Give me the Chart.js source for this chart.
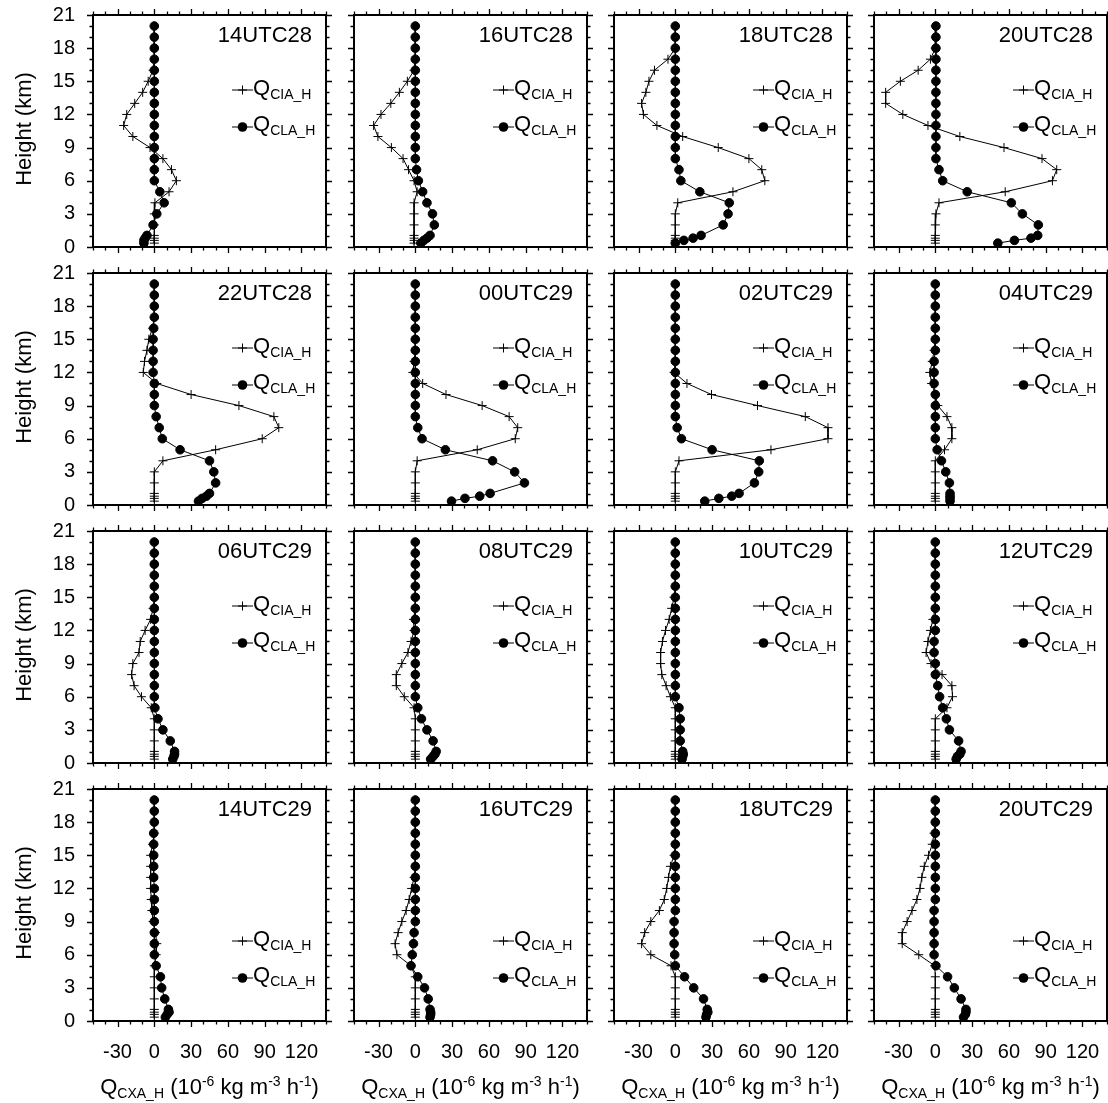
<!DOCTYPE html>
<html><head><meta charset="utf-8">
<script src="https://cdn.jsdelivr.net/npm/chart.js@4/dist/chart.umd.min.js"></script>
<style>
html,body{margin:0;padding:0;background:#fff}
body{width:1108px;height:1103px;position:relative;overflow:hidden;font-family:"Liberation Sans",Arial,Helvetica,sans-serif;color:#000}
canvas{position:absolute}
.t{position:absolute;font-size:22px;line-height:22px;white-space:nowrap}
.t sub{font-size:14px;line-height:0;vertical-align:-4px}
.t sup{font-size:14px;line-height:0;vertical-align:8px}
.mk{position:absolute}
</style>
</head><body>
<script>
// ---------------- data ----------------
const heights = [20,19,18,17,16,15,14,13,12,11,10,9,8,7,6,5,4,3,2,1.05,0.8,0.6,0.35];
const panelLabels = ['14UTC28','16UTC28','18UTC28','20UTC28','22UTC28','00UTC29','02UTC29','04UTC29',
                     '06UTC29','08UTC29','10UTC29','12UTC29','14UTC29','16UTC29','18UTC29','20UTC29'];
const xTickLabels = [-30,0,30,60,90,120];
const yTickLabels = [0,3,6,9,12,15,18,21];

const cia_14UTC28 = [0,0,0,0,-1,-5,-9.5,-16,-22.5,-25,-17.5,-3.5,7,14,18,12,0.5,0,0,0,0,0,0];
const cla_14UTC28 = [0,0,0,0,0,0,0,0,0,0,0,0,0,0,0,4.5,8,2,-1,-6,-7.5,-8.5,-8.5];
const cia_16UTC28 = [0,0,0,0,-1,-6.5,-13,-20,-28,-34,-30.5,-19.5,-10,-5.5,-1,1.5,-1,-1,-1,-1,-1,-1,-1];
const cla_16UTC28 = [0,0,0,0,0,0,0,0,0,0,0,0,0,1,2.5,6,9.5,14,15.5,12,9.5,7,4.5];
const cia_18UTC28 = [0,0,0,-6,-17,-21.5,-24,-27.5,-26,-15,6,35,60,70.5,73,47,2,0,0,0,0,0,0];
const cla_18UTC28 = [0,0,0,0,0,0,0,0,0,0,0,0,0,3,4.5,20,44,43,39,21,14.5,7,0];
const cia_20UTC28 = [0,0,0,-4,-14,-28.5,-40.5,-40.5,-26.5,-6,20,56,87,99,95.5,57,3,0.5,0,0,0,0,0];
const cla_20UTC28 = [0.5,0.5,0.5,0.5,0.5,0.5,0.5,0.5,0.5,0.5,0.5,0.5,0.5,3,6,26,62,71,84,83.5,78,64.5,51];
const cia_22UTC28 = [0,0,0,0,-1.5,-4.5,-6,-8,-9,2,30,69,97.5,101.5,88,50,7,0,0,0,0,0,0];
const cla_22UTC28 = [0,0,0,0,-0.5,-1,-1,-1,-1,0,0,0,1.5,4,6.5,21,45,48.5,50,45,42.5,39,36];
const cia_00UTC29 = [0,0,0,0,0,0,0,-1,-2,6,25,54.5,76.5,83.5,81.5,50.5,1.5,0,0,0,0,0,0];
const cla_00UTC29 = [0,0,0,0,0,0,0,0,0,0,0,0,0,2,5.5,24.5,63,81,89,61,52.5,40.5,29.5];
const cia_02UTC29 = [0,0,0,0,0,0,0,0,-1,9.5,29.5,67,106,124.5,124.5,78,3,0,0,0,0,0,0];
const cla_02UTC29 = [0,0,0,0,0,0,0,0,0,0,0,0,0,1.5,5,30,68.5,68,64.5,52,46,35.5,24];
const cia_04UTC29 = [0,0,0,0,0,0,-1,-2.5,-4.5,-3,0,2,9.5,13.5,13.5,7.5,0,0,0,0,0,0,0];
const cla_04UTC29 = [0,0,0,0,0,0,0,-1,-1,-1,0,0,0,0,0,1.5,5,8.5,11.5,12,12,12,12];
const cia_06UTC29 = [0,0,0,0,0,0,-1,-3,-7.5,-11.5,-12.5,-17.5,-18.5,-16.5,-10.5,-2.5,0,0,0,0,0,0,0];
const cla_06UTC29 = [0,0,0,0,0,0,0,0,0,0,0,0,0,0,0,0.5,3,7,13,16.5,16.5,16,15];
const cia_08UTC29 = [0,0,0,0,0,0,0,-1.5,-1,-3.5,-6,-11,-15.5,-15.5,-9,-1,0,0,0,0,0,0,0];
const cla_08UTC29 = [0,0,0,0,0,0,0,0,0,0,0,0,0,0,0,2,5,9.5,14.5,17,16,14.5,12.5];
const cia_10UTC29 = [0,0,0,0,0,-1,-3,-5,-8,-10.5,-12,-12,-11,-7.5,-4,0,0,0,0,0,0,0,0];
const cla_10UTC29 = [0,0,0,0,0,0,0,0,0,0,0,0,0,0,0,3,4,4,4,6,6.5,6,5.5];
const cia_12UTC29 = [0,0,0,0,0,0,0,-2,-4,-6,-7.5,-3.5,5.5,13.5,14,9.5,0,0,0,0,0,0,0];
const cla_12UTC29 = [0,0,0,0,0,0,0,0,0,-1,-1,0,0,2,3.5,6,9,11.5,19,21,20,18,17];
const cia_14UTC29 = [0,0,0,0,-1.5,-3,-3,-3,-3,-2.5,-2,-1,1,2,1.5,0,0,0,0,0,0,0,0];
const cla_14UTC29 = [0,0,0,-0.5,-0.5,-0.5,-0.5,-0.5,0,0,0,0,0,0,0,1.5,5,6,8.5,11.5,12,10.5,9];
const cia_16UTC29 = [0,0,0,0,0,0,0,-1,-3,-5,-7.5,-11,-14,-16.5,-15,-3.5,0,0,0,0,0,0,0];
const cla_16UTC29 = [0,0,0,0,0,0,0,0,0,0,0,0,-1,-1.5,-2.5,-3.5,2,7.5,10.5,12,12.5,12.5,12];
const cia_18UTC29 = [0,0,0,0,0,-1,-4,-5.5,-7,-9,-13,-20,-25,-27.5,-20,-3.5,0,0,0,0,0,0,0];
const cla_18UTC29 = [0,0,0,0,0,0,0,0,0,0,0,-1,-1,-1,-0.5,0,7.5,15,23,26,26.5,25.5,25];
const cia_20UTC29 = [0,0,0,-1,-2.5,-5.5,-9,-11,-12.5,-15,-19,-23,-27,-27,-13.5,-0.5,0,0,0,0,0,0,0];
const cla_20UTC29 = [0,0,0,0,0,0,0,0,0,0,-1,-1,-1,-1,-1,0.5,10,15.5,21,25,25,24.5,23];

const ciaSeries = [cia_14UTC28,cia_16UTC28,cia_18UTC28,cia_20UTC28,cia_22UTC28,cia_00UTC29,cia_02UTC29,cia_04UTC29,
                   cia_06UTC29,cia_08UTC29,cia_10UTC29,cia_12UTC29,cia_14UTC29,cia_16UTC29,cia_18UTC29,cia_20UTC29];
const claSeries = [cla_14UTC28,cla_16UTC28,cla_18UTC28,cla_20UTC28,cla_22UTC28,cla_00UTC29,cla_02UTC29,cla_04UTC29,
                   cla_06UTC29,cla_08UTC29,cla_10UTC29,cla_12UTC29,cla_14UTC29,cla_16UTC29,cla_18UTC29,cla_20UTC29];

// ---------------- layout ----------------
const FONT = '"Liberation Sans", Arial, Helvetica, sans-serif';
const colLeft = [93,354,614,874];
const rowTop = [15,273,531,789];
const PW = 233, PH = 232;
const PADL = 60, PADT = 12, PADR = 14, PADB = 52;

Chart.defaults.font.family = FONT;
Chart.defaults.color = '#000';

const framePlugin = {
  id: 'frame',
  afterDatasetsDraw(chart) {
    const ctx = chart.ctx, a = chart.chartArea, xs = chart.scales.x, ys = chart.scales.y;
    ctx.save();
    ctx.strokeStyle = '#000';
    ctx.lineWidth = 1.3;
    ctx.beginPath();
    for (let v = xs.min; v <= xs.max + 1e-6; v += 10) {
      const p = Math.round(xs.getPixelForValue(v)) + 0.5;
      const L = (Math.abs(v) % 30 === 0) ? 6 : 3.5;
      ctx.moveTo(p, a.bottom); ctx.lineTo(p, a.bottom + L);
      ctx.moveTo(p, a.top); ctx.lineTo(p, a.top - L);
    }
    for (let v = ys.min; v <= ys.max + 1e-6; v += 1) {
      const p = Math.round(ys.getPixelForValue(v)) + 0.5;
      const L = (v % 3 === 0) ? 6 : 3.5;
      ctx.moveTo(a.left, p); ctx.lineTo(a.left - L, p);
      ctx.moveTo(a.right, p); ctx.lineTo(a.right + L, p);
    }
    ctx.stroke();
    ctx.lineWidth = 2;
    ctx.strokeRect(a.left, a.top, a.right - a.left, a.bottom - a.top);
    ctx.restore();
  }
};

function addDiv(html, left, top, extraStyle) {
  const d = document.createElement('div');
  d.className = 't';
  d.innerHTML = html;
  d.style.left = left + 'px';
  d.style.top = top + 'px';
  if (extraStyle) Object.assign(d.style, extraStyle);
  document.body.appendChild(d);
  return d;
}

function addMarker(kind, left, cy) {
  const ns = 'http://www.w3.org/2000/svg';
  const s = document.createElementNS(ns, 'svg');
  s.setAttribute('width', 22); s.setAttribute('height', 14);
  s.setAttribute('class', 'mk');
  s.style.left = left + 'px'; s.style.top = (cy - 7) + 'px';
  let inner = '<line x1="0" y1="7" x2="21" y2="7" stroke="#000" stroke-width="1"/>';
  if (kind === 'cross') inner += '<line x1="10.5" y1="2.5" x2="10.5" y2="11.5" stroke="#000" stroke-width="1"/><line x1="6" y1="7" x2="15" y2="7" stroke="#000" stroke-width="1"/>';
  else inner += '<circle cx="10.5" cy="7" r="4.8" fill="#000"/>';
  s.innerHTML = inner;
  document.body.appendChild(s);
}

for (let i = 0; i < 16; i++) {
  const row = Math.floor(i / 4), col = i % 4;
  const px = colLeft[col], py = rowTop[row];
  const cv = document.createElement('canvas');
  cv.width = PW + PADL + PADR; cv.height = PH + PADT + PADB;
  cv.style.left = (px - PADL) + 'px'; cv.style.top = (py - PADT) + 'px';
  cv.style.width = cv.width + 'px'; cv.style.height = cv.height + 'px';
  document.body.appendChild(cv);

  const cla = claSeries[i], cia = ciaSeries[i];
  new Chart(cv, {
    type: 'scatter',
    data: {
      datasets: [
        { label: 'QCLA_H', data: heights.map((h, k) => ({ x: cla[k], y: h })), showLine: true,
          borderColor: '#000', borderWidth: 1, pointStyle: 'circle', pointRadius: 4.3,
          pointBackgroundColor: '#000', pointBorderColor: '#000', pointBorderWidth: 1 },
        { label: 'QCIA_H', data: heights.map((h, k) => ({ x: cia[k], y: h })), showLine: true,
          borderColor: '#000', borderWidth: 1, pointStyle: 'cross', pointRadius: 4.5,
          pointBorderColor: '#000', pointBorderWidth: 1 }
      ]
    },
    options: {
      responsive: false, animation: false, devicePixelRatio: 1, events: [],
      layout: { padding: { top: PADT, right: PADR, left: 0, bottom: 0 } },
      plugins: { legend: { display: false }, tooltip: { enabled: false } },
      scales: {
        x: {
          type: 'linear', position: 'bottom', min: -50, max: 140,
          grid: { display: false, drawTicks: false }, border: { display: false },
          afterBuildTicks: s => { s.ticks = xTickLabels.map(v => ({ value: v })); },
          afterFit: s => { s.height = PADB; s.paddingLeft = 0; s.paddingRight = 0; s.paddingTop = 0; s.paddingBottom = 0; },
          ticks: { display: row === 3, padding: 19, color: '#000', maxRotation: 0, autoSkip: false,
                   font: { family: FONT, size: 20 }, callback: v => String(v) }
        },
        y: {
          type: 'linear', position: 'left', min: 0, max: 21,
          grid: { display: false, drawTicks: false }, border: { display: false },
          afterBuildTicks: s => { s.ticks = yTickLabels.map(v => ({ value: v })); },
          afterFit: s => { s.width = PADL; s.paddingTop = 0; s.paddingBottom = 0; s.paddingLeft = 0; s.paddingRight = 0; },
          ticks: { display: col === 0, padding: 18, color: '#000', autoSkip: false,
                   font: { family: FONT, size: 20 }, callback: v => String(v) }
        }
      }
    },
    plugins: [framePlugin]
  });

  // panel title (top right)
  addDiv(panelLabels[i], px + PW - 14 - 200, py + 8.5, { width: '200px', textAlign: 'right' });

  // legend
  const lo = (row === 3) ? 77 : 0;
  addMarker('cross', px + 139, py + 75 + lo);
  addDiv('Q<sub>CIA_H</sub>', px + 160, py + 61.5 + lo);
  addMarker('circle', px + 139, py + 111.5 + lo);
  addDiv('Q<sub>CLA_H</sub>', px + 160, py + 97.5 + lo);

  // y-axis title on left column
  if (col === 0) {
    addDiv('Height (km)', 24 - 100, py + 114 - 11, { width: '200px', textAlign: 'center', transform: 'rotate(-90deg)' });
  }
  // x-axis title on bottom row
  if (row === 3) {
    addDiv('Q<sub>CXA_H</sub> (10<sup>-6</sup> kg m<sup>-3</sup> h<sup>-1</sup>)', px - 30, 1075.5, { width: (PW + 60) + 'px', textAlign: 'center' });
  }
}
</script>
</body></html>
